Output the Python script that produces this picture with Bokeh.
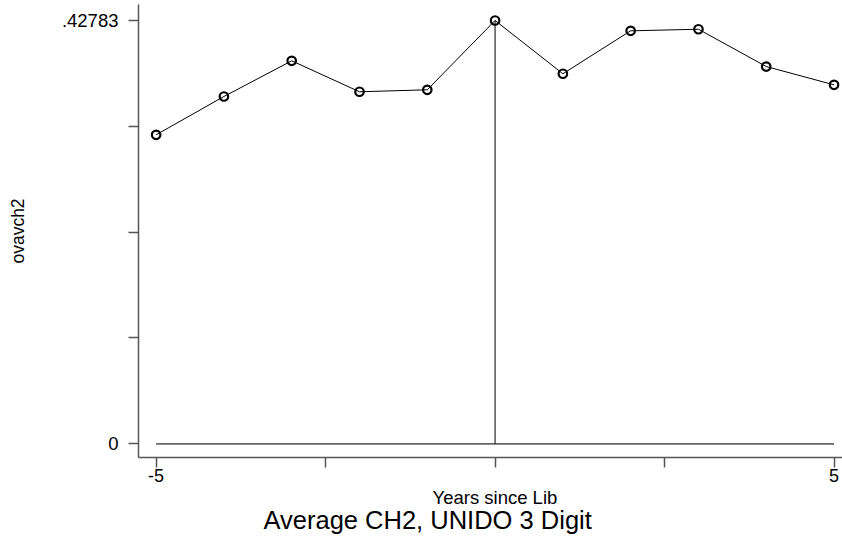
from bokeh.plotting import figure
from bokeh.models import Range1d, FixedTicker, Title, ColumnDataSource
from bokeh.embed import file_html
from bokeh.resources import INLINE

# Data
years = [-5, -4, -3, -2, -1, 0, 1, 2, 3, 4, 5]
ovavch2 = [0.3123, 0.3510, 0.3871, 0.3558, 0.3578, 0.42783, 0.3740, 0.4174, 0.4190, 0.3813, 0.3628]
ymax = 0.42783
y_ticks = [0, ymax / 4, ymax / 2, 3 * ymax / 4, ymax]
y_tick_labels = {0: "0", ymax: ".42783"}
x_ticks = [-5, -2.5, 0, 2.5, 5]
x_tick_labels = {-5: "-5", 5: "5"}
x_title = "Years since Lib"
y_title = "ovavch2"
main_title = "Average CH2, UNIDO 3 Digit"

FONT = "Liberation Sans"

p = figure(width=842, height=540, output_backend="svg", toolbar_location=None,
           x_range=Range1d(-5.26, 5.125), y_range=Range1d(-0.01385, 0.4440),
           min_border_left=138, min_border_right=0, min_border_top=4, min_border_bottom=83)
p.outline_line_color = None
p.grid.visible = False
p.background_fill_color = "white"
p.border_fill_color = "white"

# reference lines
p.line(x=[years[0], years[-1]], y=[0, 0], line_color="#666666", line_width=1.8)
p.line(x=[0, 0], y=[0, ymax], line_color="black", line_width=1)

src = ColumnDataSource(dict(x=years, y=ovavch2))
p.line("x", "y", source=src, line_color="black", line_width=1)
p.scatter("x", "y", source=src, marker="circle", size=8.5, line_color="black",
          line_width=2.2, fill_color="white", fill_alpha=0.0)

# axes
for ax in (p.xaxis[0], p.yaxis[0]):
    ax.axis_line_color = "#555555"
    ax.axis_line_width = 1.5
    ax.major_tick_line_color = "#555555"
    ax.major_tick_line_width = 1.5
    ax.major_tick_out = 10
    ax.major_tick_in = 0
    ax.minor_tick_line_color = None
    ax.major_label_text_font = FONT
    ax.major_label_text_color = "black"

p.yaxis.ticker = FixedTicker(ticks=y_ticks)
p.yaxis.major_label_overrides = {t: y_tick_labels.get(t, "") for t in y_ticks}
p.yaxis.major_label_text_font_size = "18.5px"
p.yaxis.major_label_orientation = "horizontal"
p.yaxis.major_label_standoff = 10
p.yaxis.axis_label = y_title
p.yaxis.axis_label_text_font = FONT
p.yaxis.axis_label_text_font_style = "normal"
p.yaxis.axis_label_text_font_size = "17.5px"
p.yaxis.axis_label_text_color = "black"
p.yaxis.axis_label_standoff = 31

p.xaxis.ticker = FixedTicker(ticks=x_ticks)
p.xaxis.major_label_overrides = {t: x_tick_labels.get(t, "") for t in x_ticks}
p.xaxis.major_label_text_font_size = "18px"
p.xaxis.major_label_standoff = 1

p.add_layout(Title(text=x_title, text_font=FONT, text_font_size="18.5px",
                   text_font_style="normal", text_color="black", align="left",
                   offset=294, standoff=0), "below")
p.add_layout(Title(text=main_title, text_font=FONT, text_font_size="25.5px",
                   text_font_style="normal", text_color="black", align="left",
                   offset=125, standoff=-7), "below")

open("out.html", "w").write(file_html(p, INLINE))
